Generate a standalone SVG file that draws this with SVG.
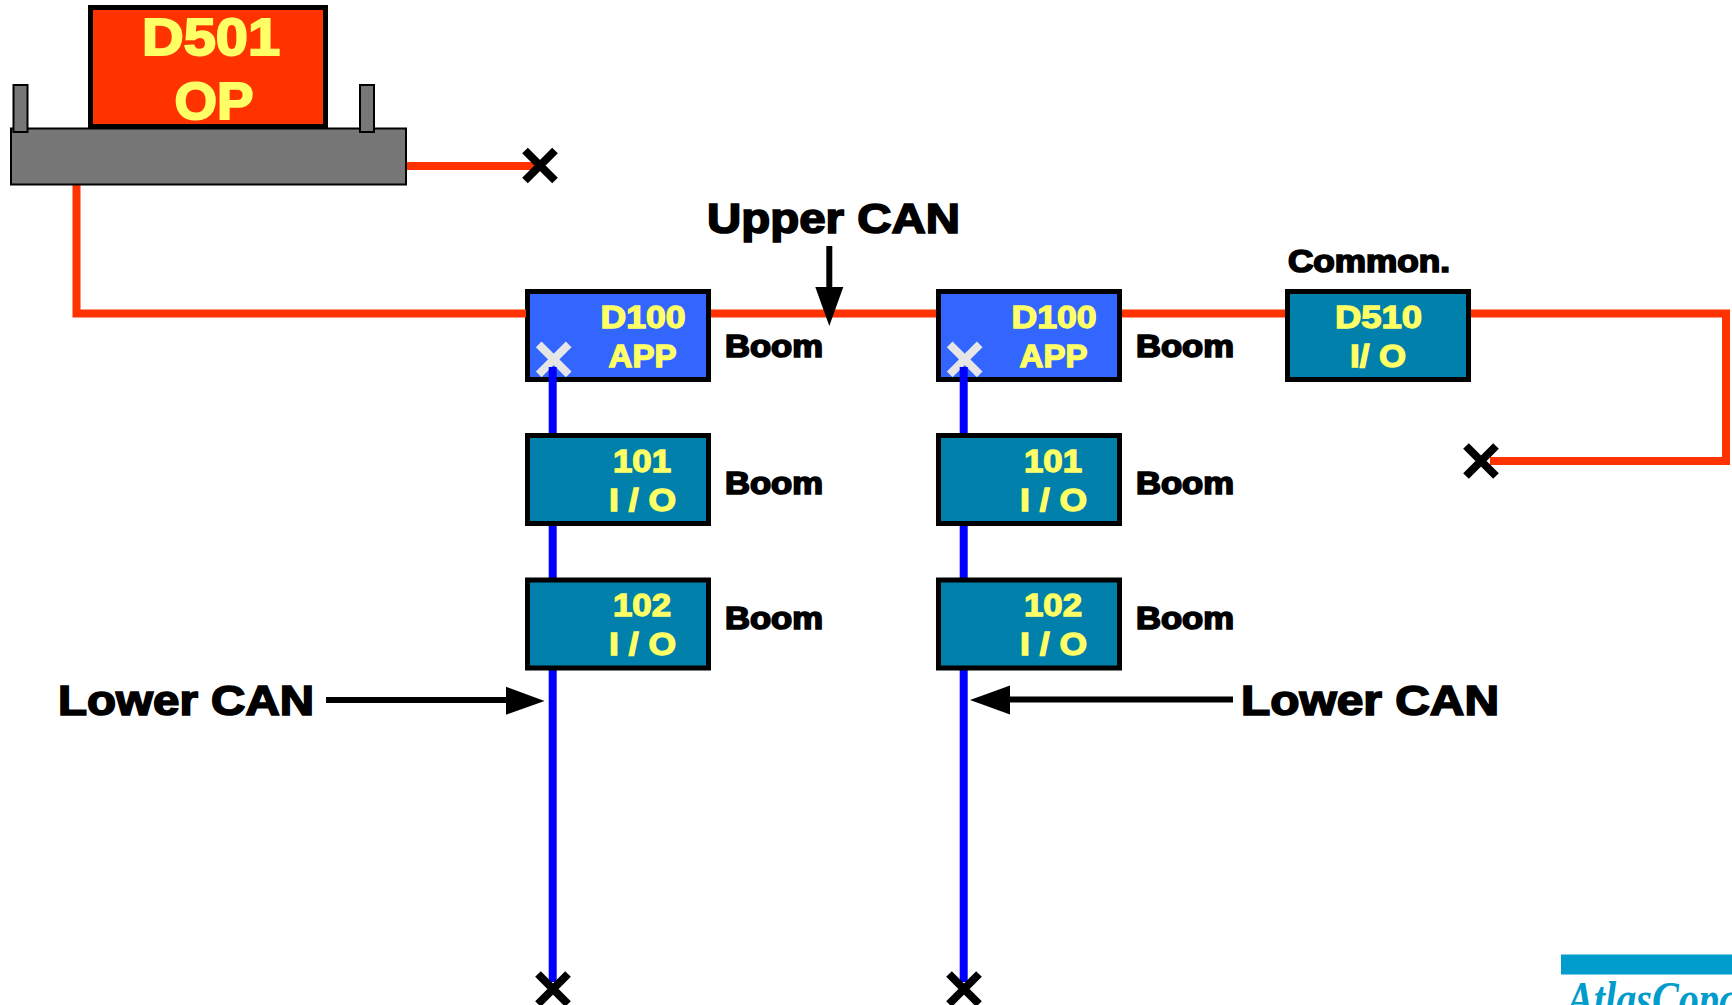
<svg xmlns="http://www.w3.org/2000/svg" width="1732" height="1005" viewBox="0 0 1732 1005">
<style>
text{font-family:"Liberation Sans",Arial,sans-serif;font-weight:700}
.lab{fill:#000;stroke:#000;stroke-width:1.7}
.big{font-size:42px}
.mid{font-size:30.5px}
.y{fill:#ffff66;font-size:30.5px;stroke:#ffff66;stroke-width:1.3}
.y2{fill:#ffff66;font-size:52px;stroke:#ffff66;stroke-width:2}
.box{stroke:#000;stroke-width:5}
.app{fill:#3366ff}
.io{fill:#0080aa}
.red{fill:none;stroke:#ff3300;stroke-width:8}
.blue{fill:none;stroke:#0000ff;stroke-width:8}
.arr{fill:none;stroke:#000;stroke-width:6}
.gray{fill:#777;stroke:#000;stroke-width:2}
.xk{fill:none;stroke:#000;stroke-width:8}
.xw{fill:none;stroke:#e6e6e6;stroke-width:8}
</style>
<defs>
<path id="x" d="M-15 -15L15 15M15 -15L-15 15"/>
</defs>
<rect width="1732" height="1005" fill="#fff"/>
<g id="app1">
<rect class="box app" x="527.500" y="291.500" width="181" height="88"/>
<text class="y" x="600.500" y="327.500" textLength="85" lengthAdjust="spacingAndGlyphs">D100</text>
<text class="y" x="608.500" y="366.500" textLength="68" lengthAdjust="spacingAndGlyphs">APP</text>
<use href="#x" class="xw" x="553.700" y="359.300"/>
</g>
<g id="app2">
<rect class="box app" x="938.500" y="291.500" width="181" height="88"/>
<text class="y" x="1011.500" y="327.500" textLength="85" lengthAdjust="spacingAndGlyphs">D100</text>
<text class="y" x="1019.500" y="366.500" textLength="68" lengthAdjust="spacingAndGlyphs">APP</text>
<use href="#x" class="xw" x="964.700" y="359.300"/>
</g>
<g id="connectors">
<path class="red" d="M407 166H538"/>
<path class="red" d="M76.500 185V313.500H526"/>
<path class="red" d="M711 313.500H936"/>
<path class="red" d="M1122 313.500H1286"/>
<path class="red" d="M1471 313.500H1726V461H1490"/>
<path class="blue" d="M552.700 367V982"/>
<path class="blue" d="M963.700 367V982"/>
<path class="arr" d="M829.300 246V290"/>
<path d="M815.300 287H843.300L829.300 326Z"/>
<path class="arr" d="M326 700H510"/>
<path d="M506 686.700L544.600 701L506 714.700Z"/>
<path class="arr" d="M1233 699.500H1006"/>
<path d="M1010 685.500L970 700L1010 714.500Z"/>
</g>
<g id="d501">
<rect class="box" style="fill:#ff3300" x="90.500" y="7.500" width="235" height="119"/>
<text class="y2" x="142" y="55" textLength="138" lengthAdjust="spacingAndGlyphs">D501</text>
<text class="y2" x="174.500" y="119" textLength="79" lengthAdjust="spacingAndGlyphs">OP</text>
</g>
<g id="base">
<rect class="gray" x="11" y="128.500" width="395" height="56"/>
<rect class="gray" x="13.500" y="85" width="14" height="47"/>
<rect class="gray" x="360" y="85" width="14" height="47"/>
</g>
<g id="io101a">
<rect class="box io" x="527.500" y="435.500" width="181" height="88"/>
<text class="y" x="613" y="472" textLength="58" lengthAdjust="spacingAndGlyphs">101</text>
<text class="y" x="609" y="511" textLength="67" lengthAdjust="spacingAndGlyphs">I / O</text>
</g>
<g id="io102a">
<rect class="box io" x="527.500" y="580" width="181" height="88"/>
<text class="y" x="613" y="615.500" textLength="58" lengthAdjust="spacingAndGlyphs">102</text>
<text class="y" x="609" y="654.500" textLength="67" lengthAdjust="spacingAndGlyphs">I / O</text>
</g>
<g id="io101b">
<rect class="box io" x="938.500" y="435.500" width="181" height="88"/>
<text class="y" x="1024" y="472" textLength="58" lengthAdjust="spacingAndGlyphs">101</text>
<text class="y" x="1020" y="511" textLength="67" lengthAdjust="spacingAndGlyphs">I / O</text>
</g>
<g id="io102b">
<rect class="box io" x="938.500" y="580" width="181" height="88"/>
<text class="y" x="1024" y="615.500" textLength="58" lengthAdjust="spacingAndGlyphs">102</text>
<text class="y" x="1020" y="654.500" textLength="67" lengthAdjust="spacingAndGlyphs">I / O</text>
</g>
<g id="d510">
<rect class="box io" x="1287.500" y="291.500" width="181" height="88"/>
<text class="y" x="1335" y="328" textLength="87" lengthAdjust="spacingAndGlyphs">D510</text>
<text class="y" x="1350" y="367" textLength="56" lengthAdjust="spacingAndGlyphs">I/ O</text>
</g>
<g id="ends">
<use href="#x" class="xk" x="540" y="165.500"/>
<use href="#x" class="xk" x="1481" y="461"/>
<use href="#x" class="xk" x="553" y="989"/>
<use href="#x" class="xk" x="964" y="989"/>
</g>
<g id="labels">
<text class="lab big" x="707" y="233" textLength="253" lengthAdjust="spacingAndGlyphs">Upper CAN</text>
<text class="lab big" x="58" y="715" textLength="256" lengthAdjust="spacingAndGlyphs">Lower CAN</text>
<text class="lab big" x="1241" y="715" textLength="258" lengthAdjust="spacingAndGlyphs">Lower CAN</text>
<text class="lab mid" x="1288" y="271.500" textLength="162" lengthAdjust="spacingAndGlyphs">Common.</text>
<text class="lab mid" x="725" y="356.500" textLength="98" lengthAdjust="spacingAndGlyphs">Boom</text>
<text class="lab mid" x="725" y="493.500" textLength="98" lengthAdjust="spacingAndGlyphs">Boom</text>
<text class="lab mid" x="725" y="628.500" textLength="98" lengthAdjust="spacingAndGlyphs">Boom</text>
<text class="lab mid" x="1136" y="356.500" textLength="98" lengthAdjust="spacingAndGlyphs">Boom</text>
<text class="lab mid" x="1136" y="493.500" textLength="98" lengthAdjust="spacingAndGlyphs">Boom</text>
<text class="lab mid" x="1136" y="628.500" textLength="98" lengthAdjust="spacingAndGlyphs">Boom</text>
</g>
<g id="logo">
<rect x="1561" y="954.500" width="171" height="20" fill="#009ccc"/>
<text x="1567" y="1015" style="font-family:'Liberation Serif',serif;font-style:italic;font-size:48px;fill:#009ccc" textLength="190" lengthAdjust="spacingAndGlyphs">AtlasCopco</text>
</g>
</svg>
